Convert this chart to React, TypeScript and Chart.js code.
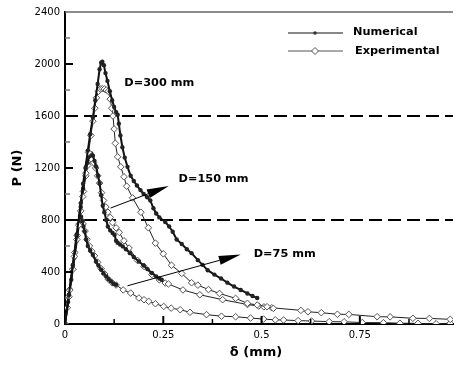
import { useEffect, useRef } from 'react';
import { Chart, registerables } from 'chart.js';

Chart.register(...registerables);

// ---------- data ----------
const xMax = 0.987;
const yMax = 2400;
const xTickValues = [0, 0.25, 0.5, 0.75];
const xMinorTicks = [0.125, 0.375, 0.625, 0.875];
const yTickValues = [0, 400, 800, 1200, 1600, 2000, 2400];
const yMinorTicks = [200, 600, 1000, 1400, 1800, 2200];
const dashedLevels = [1600, 800];

const numerical300: [number, number][] = [
  [0, 0], [0.01, 225], [0.02, 455], [0.03, 690], [0.04, 930], [0.046, 1079], [0.052, 1200], [0.058, 1334],
  [0.064, 1460], [0.071, 1590], [0.077, 1720], [0.083, 1846], [0.088, 1960], [0.092, 2010], [0.095, 2017],
  [0.099, 1990], [0.103, 1930], [0.108, 1870], [0.114, 1790], [0.12, 1720], [0.125, 1670], [0.13, 1630],
  [0.134, 1610], [0.137, 1540], [0.141, 1450], [0.146, 1360], [0.152, 1280], [0.159, 1209], [0.167, 1140],
  [0.175, 1100], [0.183, 1065], [0.192, 1030], [0.2, 1000], [0.209, 975], [0.217, 950], [0.225, 890],
  [0.232, 850], [0.24, 820], [0.255, 785], [0.265, 750], [0.274, 710], [0.284, 650], [0.297, 615],
  [0.31, 575], [0.322, 545], [0.338, 491], [0.35, 455], [0.363, 414], [0.38, 380], [0.397, 350],
  [0.413, 318], [0.43, 288], [0.447, 262], [0.464, 235], [0.477, 215], [0.489, 200],
];
const experimental300: [number, number][] = [
  [0, 0], [0.012, 260], [0.024, 520], [0.035, 760], [0.045, 980], [0.053, 1160], [0.06, 1320], [0.066, 1450],
  [0.071, 1560], [0.076, 1660], [0.08, 1740], [0.085, 1790], [0.09, 1808], [0.095, 1810], [0.1, 1808],
  [0.105, 1800], [0.11, 1790], [0.115, 1730], [0.119, 1660], [0.122, 1600], [0.125, 1500], [0.128, 1390],
  [0.134, 1286], [0.142, 1209], [0.15, 1132], [0.157, 1060], [0.172, 970], [0.193, 860], [0.212, 740],
  [0.23, 622], [0.25, 540], [0.271, 452], [0.297, 389], [0.322, 317], [0.338, 299], [0.365, 265],
  [0.393, 235], [0.434, 197], [0.464, 159], [0.489, 146], [0.514, 133], [0.53, 120],
];
const numerical150: [number, number][] = [
  [0, 0], [0.01, 225], [0.02, 450], [0.03, 680], [0.04, 900], [0.046, 1040], [0.052, 1160], [0.057, 1240],
  [0.062, 1290], [0.067, 1312], [0.071, 1295], [0.075, 1255], [0.079, 1212], [0.084, 1140], [0.088, 1084],
  [0.092, 990], [0.096, 910], [0.1, 860], [0.105, 800], [0.109, 750], [0.115, 720], [0.121, 700],
  [0.126, 685], [0.13, 640], [0.134, 625], [0.14, 612], [0.147, 597], [0.155, 575], [0.165, 545],
  [0.175, 515], [0.188, 481], [0.2, 450], [0.21, 422], [0.221, 392], [0.232, 365], [0.24, 350], [0.246, 340],
];
const experimental150: [number, number][] = [
  [0, 0], [0.01, 210], [0.02, 420], [0.03, 650], [0.04, 870], [0.047, 1020], [0.053, 1140], [0.058, 1220],
  [0.063, 1260], [0.068, 1265], [0.073, 1240], [0.078, 1200], [0.083, 1140], [0.088, 1084], [0.093, 1010],
  [0.098, 950], [0.104, 900], [0.109, 860], [0.115, 820], [0.121, 780], [0.13, 740], [0.138, 705],
  [0.15, 640], [0.163, 584], [0.184, 490], [0.201, 443], [0.221, 380], [0.24, 340], [0.255, 315],
  [0.263, 308], [0.3, 262], [0.343, 225], [0.401, 187], [0.464, 150], [0.493, 138], [0.506, 132],
  [0.526, 125], [0.6, 105], [0.618, 94], [0.652, 87], [0.693, 75], [0.722, 74], [0.794, 56], [0.827, 55],
  [0.885, 44], [0.927, 43], [0.98, 36],
];
const numerical75: [number, number][] = [
  [0, 0], [0.008, 170], [0.016, 340], [0.024, 510], [0.03, 640], [0.035, 760], [0.038, 830], [0.041, 825],
  [0.044, 790], [0.047, 750], [0.05, 712], [0.054, 650], [0.058, 600], [0.064, 565], [0.071, 533],
  [0.079, 481], [0.085, 450], [0.092, 418], [0.098, 390], [0.105, 366], [0.111, 345], [0.117, 328],
  [0.123, 310], [0.13, 302],
];
const experimental75: [number, number][] = [
  [0, 0], [0.006, 125], [0.012, 265], [0.019, 420], [0.025, 550], [0.031, 680], [0.036, 770], [0.041, 800],
  [0.046, 770], [0.051, 715], [0.056, 650], [0.062, 600], [0.068, 560], [0.075, 525], [0.083, 475],
  [0.092, 425], [0.101, 385], [0.11, 345], [0.12, 318], [0.13, 300], [0.148, 262], [0.167, 238],
  [0.188, 200], [0.201, 187], [0.213, 174], [0.23, 156], [0.251, 135], [0.27, 122], [0.293, 110],
  [0.318, 90], [0.36, 72], [0.398, 60], [0.434, 56], [0.472, 46], [0.505, 38], [0.535, 32], [0.556, 31],
  [0.593, 26], [0.627, 23], [0.672, 18], [0.71, 17], [0.756, 11], [0.81, 10], [0.852, 6], [0.898, 5],
  [0.944, 2], [0.98, 6],
];

const seriesNames = ['Numerical', 'Experimental'];
const curveLabels = ['D=300 mm', 'D=150 mm', 'D=75 mm'];
const curveLabelPos: [number, number][] = [[0.151, 1856], [0.289, 1117], [0.48, 541]];
const arrowStarts: [number, number][] = [[0.116, 892], [0.159, 294]];
const arrowTips: [number, number][] = [[0.264, 1062], [0.447, 535]];
const xTitle = 'δ (mm)';
const yTitle = 'P (N)';

// ---------- helpers ----------
const toXY = (arr: [number, number][]) => arr.map(([x, y]) => ({ x, y }));

const numStyle = {
  borderColor: '#111',
  borderWidth: 2,
  pointRadius: 2.2,
  pointBackgroundColor: '#222',
  pointBorderWidth: 0,
  pointStyle: 'circle',
  tension: 0,
};
const expStyle = {
  borderColor: '#222',
  borderWidth: 1,
  pointRadius: 3.3,
  pointBackgroundColor: '#fff',
  pointBorderColor: '#555',
  pointBorderWidth: 1,
  pointStyle: 'rectRot',
  tension: 0,
};

const overlay = {
  id: 'overlay',
  afterDraw(chart: any) {
    const { ctx, chartArea, scales } = chart;
    const xs = scales.x;
    const ys = scales.y;
    ctx.save();
    // top frame line
    ctx.strokeStyle = '#666';
    ctx.lineWidth = 1.5;
    ctx.beginPath();
    ctx.moveTo(chartArea.left, chartArea.top);
    ctx.lineTo(chartArea.right, chartArea.top);
    ctx.stroke();

    // inward ticks
    ctx.strokeStyle = '#000';
    ctx.lineWidth = 2;
    for (const v of yTickValues.slice(1, -1)) {
      const py = ys.getPixelForValue(v);
      ctx.beginPath(); ctx.moveTo(chartArea.left, py); ctx.lineTo(chartArea.left + 8, py); ctx.stroke();
    }
    for (const v of xTickValues.slice(1)) {
      const px = xs.getPixelForValue(v);
      ctx.beginPath(); ctx.moveTo(px, chartArea.bottom); ctx.lineTo(px, chartArea.bottom - 8); ctx.stroke();
    }
    ctx.strokeStyle = '#777';
    ctx.lineWidth = 1.5;
    for (const v of yMinorTicks) {
      const py = ys.getPixelForValue(v);
      ctx.beginPath(); ctx.moveTo(chartArea.left, py); ctx.lineTo(chartArea.left + 5, py); ctx.stroke();
    }
    ctx.strokeStyle = '#000';
    for (const v of xMinorTicks) {
      const px = xs.getPixelForValue(v);
      ctx.beginPath(); ctx.moveTo(px, chartArea.bottom); ctx.lineTo(px, chartArea.bottom - 5); ctx.stroke();
    }

    // arrows
    ctx.fillStyle = '#000';
    ctx.strokeStyle = '#000';
    ctx.lineWidth = 1;
    arrowStarts.forEach((s, i) => {
      const t = arrowTips[i];
      const x1 = xs.getPixelForValue(s[0]);
      const y1 = ys.getPixelForValue(s[1]);
      const x2 = xs.getPixelForValue(t[0]);
      const y2 = ys.getPixelForValue(t[1]);
      const ang = Math.atan2(y2 - y1, x2 - x1);
      const hl = 22;
      const hw = 4.5;
      const bx = x2 - hl * Math.cos(ang);
      const by = y2 - hl * Math.sin(ang);
      ctx.beginPath(); ctx.moveTo(x1, y1); ctx.lineTo(bx, by); ctx.stroke();
      ctx.beginPath();
      ctx.moveTo(x2, y2);
      ctx.lineTo(bx + hw * Math.sin(ang), by - hw * Math.cos(ang));
      ctx.lineTo(bx - hw * Math.sin(ang), by + hw * Math.cos(ang));
      ctx.closePath();
      ctx.fill();
    });

    // curve labels
    ctx.font = 'bold 11.3px "DejaVu Sans"';
    ctx.textAlign = 'left';
    ctx.textBaseline = 'middle';
    curveLabels.forEach((txt, i) => {
      const [vx, vy] = curveLabelPos[i];
      ctx.fillText(txt, xs.getPixelForValue(vx), ys.getPixelForValue(vy));
    });

    // legend
    const lx1 = 288, lx2 = 343, lmid = 315;
    ctx.lineWidth = 1;
    ctx.strokeStyle = '#111';
    ctx.beginPath(); ctx.moveTo(lx1, 33); ctx.lineTo(lx2, 33); ctx.stroke();
    ctx.fillStyle = '#333';
    ctx.beginPath(); ctx.arc(lmid, 33, 1.8, 0, Math.PI * 2); ctx.fill();
    ctx.strokeStyle = '#555';
    ctx.beginPath(); ctx.moveTo(lx1, 51); ctx.lineTo(lx2, 51); ctx.stroke();
    ctx.fillStyle = '#fff';
    ctx.beginPath();
    ctx.moveTo(lmid, 47.5); ctx.lineTo(lmid + 3.5, 51); ctx.lineTo(lmid, 54.5); ctx.lineTo(lmid - 3.5, 51); ctx.closePath();
    ctx.fill(); ctx.stroke();
    ctx.fillStyle = '#000';
    ctx.font = 'bold 11.3px "DejaVu Sans"';
    ctx.fillText(seriesNames[0], 353, 32);
    ctx.fillText(seriesNames[1], 355, 51);

    // axis titles
    ctx.font = 'bold 13px "DejaVu Sans"';
    ctx.textAlign = 'center';
    ctx.fillText(xTitle, (chartArea.left + chartArea.right) / 2 - 3, 353);
    ctx.save();
    ctx.translate(18, (chartArea.top + chartArea.bottom) / 2);
    ctx.rotate(-Math.PI / 2);
    ctx.fillText(yTitle, 0, 0);
    ctx.restore();

    ctx.restore();
  },
};

export default function App() {
  const canvasRef = useRef<HTMLCanvasElement | null>(null);

  useEffect(() => {
    document.body.style.margin = '0';
    const canvas = canvasRef.current;
    if (!canvas) return;

    const dashed = dashedLevels.map((lvl) => ({
      data: [{ x: 0, y: lvl }, { x: xMax, y: lvl }],
      borderColor: '#000',
      borderWidth: 2,
      borderDash: [13, 6],
      pointRadius: 0,
      order: 10,
    }));

    const chart = new Chart(canvas, {
      type: 'line',
      data: {
        datasets: [
          { label: 'Numerical D=300', data: toXY(numerical300), ...numStyle },
          { label: 'Experimental D=300', data: toXY(experimental300), ...expStyle },
          { label: 'Numerical D=150', data: toXY(numerical150), ...numStyle },
          { label: 'Experimental D=150', data: toXY(experimental150), ...expStyle },
          { label: 'Numerical D=75', data: toXY(numerical75), ...numStyle },
          { label: 'Experimental D=75', data: toXY(experimental75), ...expStyle },
          ...dashed,
        ] as any,
      },
      options: {
        animation: false,
        responsive: true,
        maintainAspectRatio: false,
        layout: { padding: { top: 12, right: 0, left: 0, bottom: 0 } },
        plugins: { legend: { display: false }, tooltip: { enabled: false } },
        scales: {
          x: {
            type: 'linear',
            min: 0,
            max: xMax,
            afterFit: (s: any) => { s.height = 41; },
            afterBuildTicks: (s: any) => { s.ticks = xTickValues.map((v) => ({ value: v })); },
            ticks: {
              font: { family: 'DejaVu Sans', size: 10 },
              color: '#000',
              padding: 5,
              maxRotation: 0,
              callback: (v: any) => String(v),
            },
            grid: { display: true, drawOnChartArea: false, drawTicks: false },
            border: { display: true, color: '#000', width: 2 },
          },
          y: {
            type: 'linear',
            min: 0,
            max: yMax,
            afterFit: (s: any) => { s.width = 65; },
            afterBuildTicks: (s: any) => { s.ticks = yTickValues.map((v) => ({ value: v })); },
            ticks: {
              font: { family: 'DejaVu Sans', size: 10 },
              color: '#000',
              padding: 5,
              callback: (v: any) => String(v),
            },
            grid: { display: true, drawOnChartArea: false, drawTicks: false },
            border: { display: true, color: '#000', width: 2 },
          },
        },
      } as any,
      plugins: [overlay],
    });

    return () => chart.destroy();
  }, []);

  return (
    <div style={{ width: 458, height: 365, position: 'relative', background: '#fff' }}>
      <canvas ref={canvasRef} />
    </div>
  );
}
